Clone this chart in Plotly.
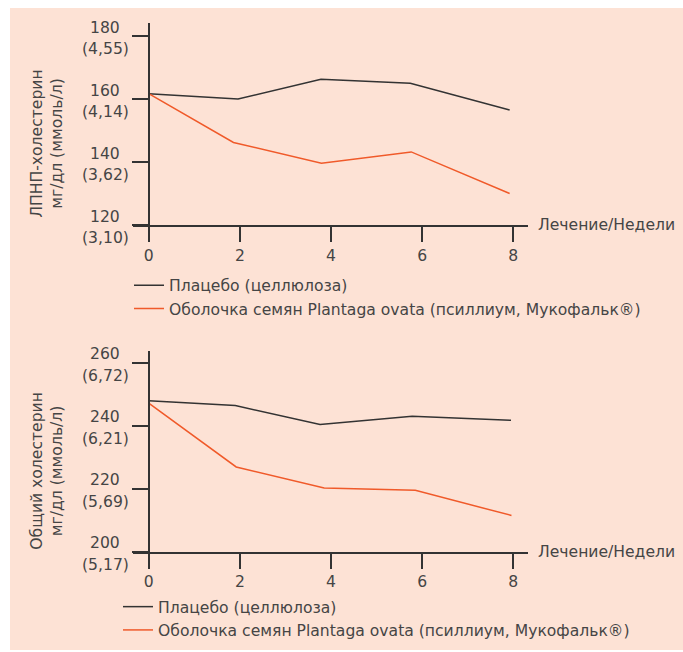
import plotly.graph_objects as go

# ---------------- data ----------------
weeks_ticks = [0, 2, 4, 6, 8]

# LDL cholesterol (mg/dl)
ldl_placebo_weeks = [0, 1.96, 3.78, 5.74, 7.92]
ldl_placebo = [161.7, 160.0, 166.3, 165.0, 156.5]
ldl_psyllium_weeks = [0, 1.86, 3.79, 5.76, 7.92]
ldl_psyllium = [161.7, 146.2, 139.6, 143.2, 130.0]
ldl_ticks = [120, 140, 160, 180]
ldl_mmol = ["(3,10)", "(3,62)", "(4,14)", "(4,55)"]

# Total cholesterol (mg/dl)
tc_placebo_weeks = [0, 1.90, 3.76, 5.78, 7.95]
tc_placebo = [247.9, 246.4, 240.4, 243.0, 241.7]
tc_psyllium_weeks = [0, 1.92, 3.85, 5.85, 7.96]
tc_psyllium = [247.2, 226.9, 220.2, 219.5, 211.5]
tc_ticks = [200, 220, 240, 260]
tc_mmol = ["(5,17)", "(5,69)", "(6,21)", "(6,72)"]

name_placebo = "Плацебо (целлюлоза)"
name_psyllium = "Оболочка семян Plantaga ovata (псиллиум, Мукофальк®)"
x_title = "Лечение/Недели"
y_title_top = "ЛПНП-холестерин<br>мг/дл (ммоль/л)"
y_title_bottom = "Общий холестерин<br>мг/дл (ммоль/л)"

# ---------------- style ----------------
W, H = 683, 652
FONT = "DejaVu Sans"
FS = 15.6
TXT = "#454545"
AX = "#333333"
BLACK = "#333333"
ORANGE = "#f05a2a"
BG = "#fde2d5"

def px_x(p):
    return p / W

def px_y(p):
    return 1 - p / H

x0_px, x8_px = 148.7, 513.3
xl_px, xr_px = 133.0, 527.7
ppw = (x8_px - x0_px) / 8
x_range = [-(x0_px - xl_px) / ppw, 8 + (xr_px - x8_px) / ppw]
ppu = 3.15

fig = go.Figure()

fig.add_trace(go.Scatter(x=ldl_placebo_weeks, y=ldl_placebo, mode="lines", name=name_placebo,
                         line=dict(color=BLACK, width=1.5), xaxis="x", yaxis="y", legend="legend"))
fig.add_trace(go.Scatter(x=ldl_psyllium_weeks, y=ldl_psyllium, mode="lines", name=name_psyllium,
                         line=dict(color=ORANGE, width=1.5), xaxis="x", yaxis="y", legend="legend"))
fig.add_trace(go.Scatter(x=tc_placebo_weeks, y=tc_placebo, mode="lines", name=name_placebo,
                         line=dict(color=BLACK, width=1.5), xaxis="x2", yaxis="y2", legend="legend2"))
fig.add_trace(go.Scatter(x=tc_psyllium_weeks, y=tc_psyllium, mode="lines", name=name_psyllium,
                         line=dict(color=ORANGE, width=1.5), xaxis="x2", yaxis="y2", legend="legend2"))

xaxis_common = dict(range=x_range, domain=[px_x(xl_px), px_x(xr_px)], tickvals=weeks_ticks,
                    ticks="outside", ticklen=15, tickwidth=1.6, tickcolor=AX,
                    showline=True, linecolor=AX, linewidth=1.6, showgrid=False, zeroline=False,
                    tickfont=dict(family=FONT, size=FS, color=TXT), fixedrange=True)

top_bot, top_top = 225.0, 23.0
bot_bot, bot_top = 551.7, 350.7
yaxis_common = dict(anchor="free", position=px_x(x0_px), ticks="outside", ticklen=15.7, tickwidth=1.6,
                    tickcolor=AX, showline=True, linecolor=AX, linewidth=1.6, showgrid=False,
                    zeroline=False, showticklabels=False, fixedrange=True)

fig.update_layout(
    width=W, height=H, margin=dict(l=0, r=0, t=0, b=0),
    paper_bgcolor="white", plot_bgcolor="rgba(0,0,0,0)",
    font=dict(family=FONT, size=FS, color=TXT),
    xaxis=dict(anchor="y", **xaxis_common),
    xaxis2=dict(anchor="y2", **xaxis_common),
    yaxis=dict(domain=[px_y(top_bot), px_y(top_top)], tickvals=ldl_ticks,
               range=[120, 120 + (top_bot - top_top) / ppu], **yaxis_common),
    yaxis2=dict(domain=[px_y(bot_bot), px_y(bot_top)], tickvals=tc_ticks,
                range=[200, 200 + (bot_bot - bot_top) / ppu], **yaxis_common),
    legend=dict(x=px_x(129), y=px_y(268.5), xanchor="left", yanchor="top",
                bgcolor="rgba(0,0,0,0)", font=dict(family=FONT, size=FS, color=TXT)),
    legend2=dict(x=px_x(118), y=px_y(590), xanchor="left", yanchor="top",
                 bgcolor="rgba(0,0,0,0)", font=dict(family=FONT, size=FS, color=TXT)),
    showlegend=True,
    shapes=[dict(type="rect", xref="paper", yref="paper", x0=px_x(10), x1=1.0,
                 y0=px_y(650), y1=px_y(8), fillcolor=BG, line=dict(width=0), layer="below")],
)

ann = []
for yref, ticks, mmol in (("y", ldl_ticks, ldl_mmol), ("y2", tc_ticks, tc_mmol)):
    for v, m in zip(ticks, mmol):
        ann.append(dict(text=str(v), x=px_x(105), xref="paper", y=v, yref=yref, yshift=8.5,
                        xanchor="center", yanchor="middle", showarrow=False))
        ann.append(dict(text=m, x=px_x(105), xref="paper", y=v, yref=yref, yshift=-13,
                        xanchor="center", yanchor="middle", showarrow=False))

ann.append(dict(text=x_title, x=px_x(536), xref="paper", y=ldl_ticks[0], yref="y",
                xanchor="left", yanchor="middle", showarrow=False))
ann.append(dict(text=x_title, x=px_x(536), xref="paper", y=tc_ticks[0], yref="y2",
                xanchor="left", yanchor="middle", showarrow=False))
ann.append(dict(text=y_title_top, x=px_x(46.7), xref="paper", y=px_y(144), yref="paper",
                textangle=-90, xanchor="center", yanchor="middle", showarrow=False))
ann.append(dict(text=y_title_bottom, x=px_x(46.7), xref="paper", y=px_y(471), yref="paper",
                textangle=-90, xanchor="center", yanchor="middle", showarrow=False))
fig.update_layout(annotations=ann)

fig.write_html("out.html", config={"displayModeBar": False},
               post_script="document.body.style.margin='0';document.body.style.overflow='hidden';")
